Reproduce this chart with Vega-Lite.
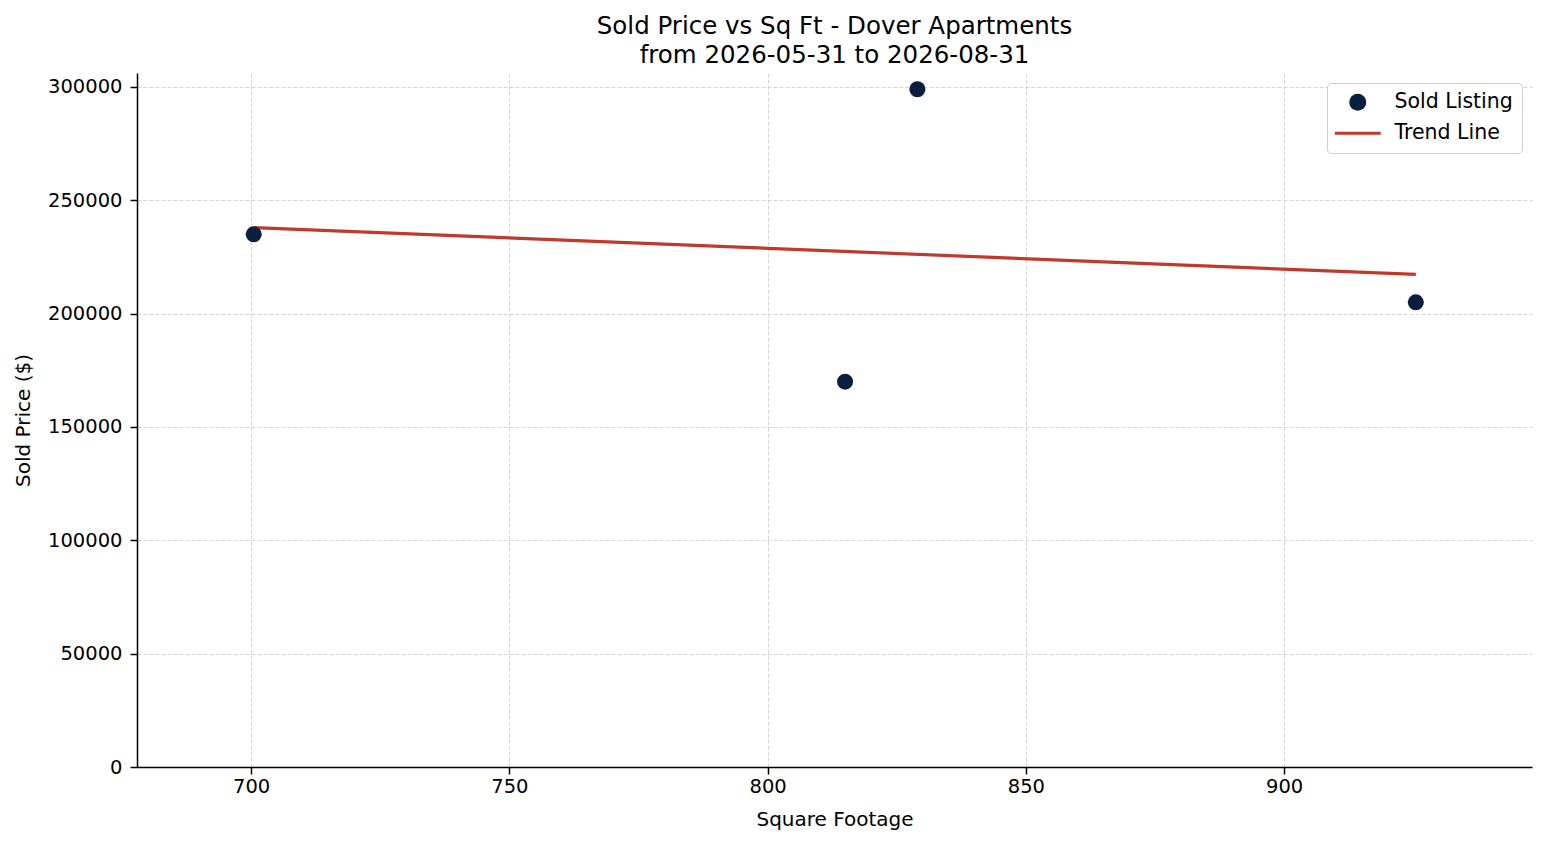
{
  "$schema": "https://vega.github.io/schema/vega-lite/v6.json",
  "autosize": "none",
  "width": 1395,
  "height": 694,
  "padding": {"left": 137, "top": 73, "right": 15, "bottom": 78},
  "background": "white",
  "title": {
    "text": ["Sold Price vs Sq Ft - Dover Apartments", "from 2026-05-31 to 2026-08-31"],
    "font": "DejaVu Sans",
    "fontSize": 24.5,
    "fontWeight": "normal",
    "color": "black",
    "anchor": "middle",
    "lineHeight": 29,
    "offset": 5
  },
  "config": {
    "font": "DejaVu Sans",
    "view": {"stroke": null},
    "axis": {
      "labelFont": "DejaVu Sans",
      "labelFontSize": 19.5,
      "labelColor": "black",
      "titleFont": "DejaVu Sans",
      "titleFontSize": 20,
      "titleFontWeight": "normal",
      "titleColor": "black",
      "domainColor": "black",
      "domainWidth": 1.5,
      "tickColor": "black",
      "tickSize": 7,
      "tickWidth": 1.5,
      "gridColor": "#d4d4d4",
      "gridDash": [4, 2],
      "gridWidth": 1
    }
  },
  "datasets": {
    "sold": [
      {"sqft": 700.5, "price": 235000, "series": "Sold Listing"},
      {"sqft": 815, "price": 170000, "series": "Sold Listing"},
      {"sqft": 829, "price": 299000, "series": "Sold Listing"},
      {"sqft": 925.5, "price": 205000, "series": "Sold Listing"}
    ],
    "trend": [
      {"sqft": 700.5, "price": 238000, "series": "Trend Line"},
      {"sqft": 925.5, "price": 217300, "series": "Trend Line"}
    ]
  },
  "layer": [
    {
      "data": {"name": "trend"},
      "mark": {"type": "line", "strokeWidth": 3.2},
      "encoding": {
        "x": {"field": "sqft", "type": "quantitative"},
        "y": {"field": "price", "type": "quantitative"},
        "color": {"field": "series", "type": "nominal"}
      }
    },
    {
      "data": {"name": "sold"},
      "mark": {"type": "point", "filled": true, "size": 256, "opacity": 1},
      "encoding": {
        "x": {
          "field": "sqft",
          "type": "quantitative",
          "title": "Square Footage",
          "scale": {"domain": [677.9, 948], "nice": false, "zero": false},
          "axis": {"values": [700, 750, 800, 850, 900], "labelPadding": 3, "titlePadding": 14}
        },
        "y": {
          "field": "price",
          "type": "quantitative",
          "title": "Sold Price ($)",
          "scale": {"domain": [0, 306176], "nice": false},
          "axis": {"values": [0, 50000, 100000, 150000, 200000, 250000, 300000], "format": "d", "labelPadding": 8, "titlePadding": 14}
        },
        "color": {
          "field": "series",
          "type": "nominal",
          "scale": {"domain": ["Sold Listing", "Trend Line"], "range": ["#0a1f3d", "#c0392b"]},
          "legend": {
            "title": null,
            "orient": "top-right",
            "offset": 10,
            "labelFont": "DejaVu Sans",
            "labelFontSize": 20.5,
            "labelColor": "black",
            "labelOffset": 26.5,
            "symbolOffset": 11.5,
            "symbolSize": 289,
            "symbolStrokeWidth": 0,
            "rowPadding": 10,
            "padding": 9,
            "strokeColor": "#cccccc",
            "cornerRadius": 4,
            "fillColor": "white"
          }
        },
        "shape": {
          "field": "series",
          "type": "nominal",
          "scale": {"domain": ["Sold Listing", "Trend Line"], "range": ["circle", "M-2.7,-0.19H2.7V0.19H-2.7Z"]}
        }
      }
    }
  ]
}
